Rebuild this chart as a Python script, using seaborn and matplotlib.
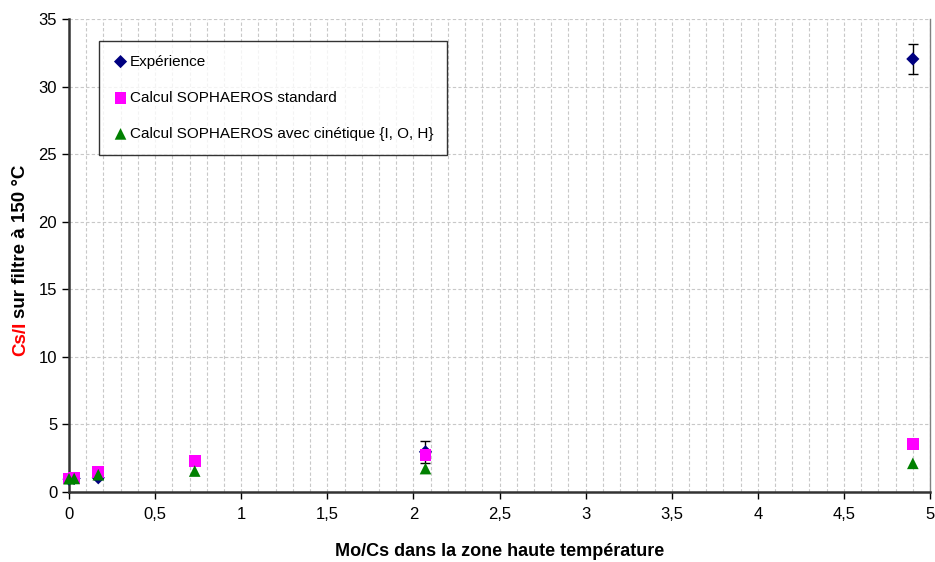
import numpy as np
import pandas as pd
import matplotlib
matplotlib.use("Agg")
import matplotlib.pyplot as plt
import seaborn as sns
from matplotlib.ticker import MultipleLocator, FuncFormatter

# data
exp_x = [0.0, 0.03, 0.17, 2.07, 4.9]
exp_y = [0.95, 1.0, 1.05, 2.97, 32.05]
exp_err = [0.05, 0.05, 0.08, 0.8, 1.1]

std_x = [0.0, 0.03, 0.17, 0.73, 2.07, 4.9]
std_y = [1.0, 1.05, 1.48, 2.3, 2.75, 3.53]

cin_x = [0.0, 0.03, 0.17, 0.73, 2.07, 4.9]
cin_y = [0.98, 1.0, 1.28, 1.55, 1.73, 2.12]

sns.set_style("white")
plt.rcParams['font.family'] = ['Liberation Sans', 'DejaVu Sans']
plt.rcParams['text.color'] = 'black'
plt.rcParams['axes.labelcolor'] = 'black'
plt.rcParams['xtick.color'] = 'black'
plt.rcParams['ytick.color'] = 'black'

fig = plt.figure(figsize=(9.35, 5.62), dpi=100)
ax = fig.add_axes([0.0738, 0.1246, 0.9209, 0.8414])

df_exp = pd.DataFrame({"x": exp_x, "y": exp_y})
df_std = pd.DataFrame({"x": std_x, "y": std_y})
df_cin = pd.DataFrame({"x": cin_x, "y": cin_y})

ax.errorbar(exp_x, exp_y, yerr=exp_err, fmt="none", ecolor="black",
            elinewidth=1, capsize=3.5, capthick=1, zorder=3, clip_on=False)
sns.scatterplot(data=df_exp, x="x", y="y", ax=ax, marker="D", s=45,
                color="#000080", edgecolor="none", label="Expérience",
                zorder=4, clip_on=False)
sns.scatterplot(data=df_std, x="x", y="y", ax=ax, marker="s", s=70,
                color="#FF00FF", edgecolor="none", label="Calcul SOPHAEROS standard",
                zorder=5, clip_on=False)
sns.scatterplot(data=df_cin, x="x", y="y", ax=ax, marker="^", s=70,
                color="#008000", edgecolor="none",
                label="Calcul SOPHAEROS avec cinétique {I, O, H}", zorder=6, clip_on=False)

ax.set_xlim(0, 5)
ax.set_ylim(0, 35)
ax.xaxis.set_major_locator(MultipleLocator(0.5))
ax.xaxis.set_minor_locator(MultipleLocator(0.1))
ax.yaxis.set_major_locator(MultipleLocator(5))
ax.xaxis.set_major_formatter(FuncFormatter(lambda v, p: ("%g" % v).replace(".", ",")))

ax.grid(which="both", axis="x", color="#c8c8c8", linestyle=(0, (3, 2)), linewidth=0.8)
ax.grid(which="major", axis="y", color="#c8c8c8", linestyle=(0, (3, 2)), linewidth=0.8)
ax.set_axisbelow(True)

ax.tick_params(axis="both", which="major", direction="out", length=5, width=1,
               color="black", labelsize=12, bottom=True, left=True)
ax.tick_params(axis="x", which="minor", length=0)
ax.tick_params(axis="x", pad=6)

for s in ["left", "bottom"]:
    ax.spines[s].set_color("#333333")
    ax.spines[s].set_linewidth(1.8)
ax.spines["top"].set_visible(False)
ax.spines["right"].set_color("#808080")
ax.spines["right"].set_linewidth(1.0)

ax.set_xlabel("Mo/Cs dans la zone haute température", fontsize=13,
              fontweight="bold", labelpad=15)
ax.set_ylabel("")

leg = ax.legend(loc="upper left", bbox_to_anchor=(0.035, 0.954), frameon=True,
                fancybox=False, edgecolor="black", fontsize=11, labelspacing=1.45,
                handletextpad=0.1, handlelength=1.0, borderpad=0.9, borderaxespad=0)
leg.get_frame().set_linewidth(1.0)

# two-coloured y label
fig.canvas.draw()
r = fig.canvas.get_renderer()
t1 = fig.text(0.022, 1 - 356 / 562, "Cs/I", color="red", rotation=90,
              fontsize=13.5, fontweight="bold", ha="center", va="bottom")
bb = t1.get_window_extent(renderer=r)
fig.text(0.022, (bb.y1 + 4) / fig.bbox.height, "sur filtre à 150 °C", color="black",
         rotation=90, fontsize=13.5, fontweight="bold", ha="center", va="bottom")

fig.savefig("out.png", dpi=100)
